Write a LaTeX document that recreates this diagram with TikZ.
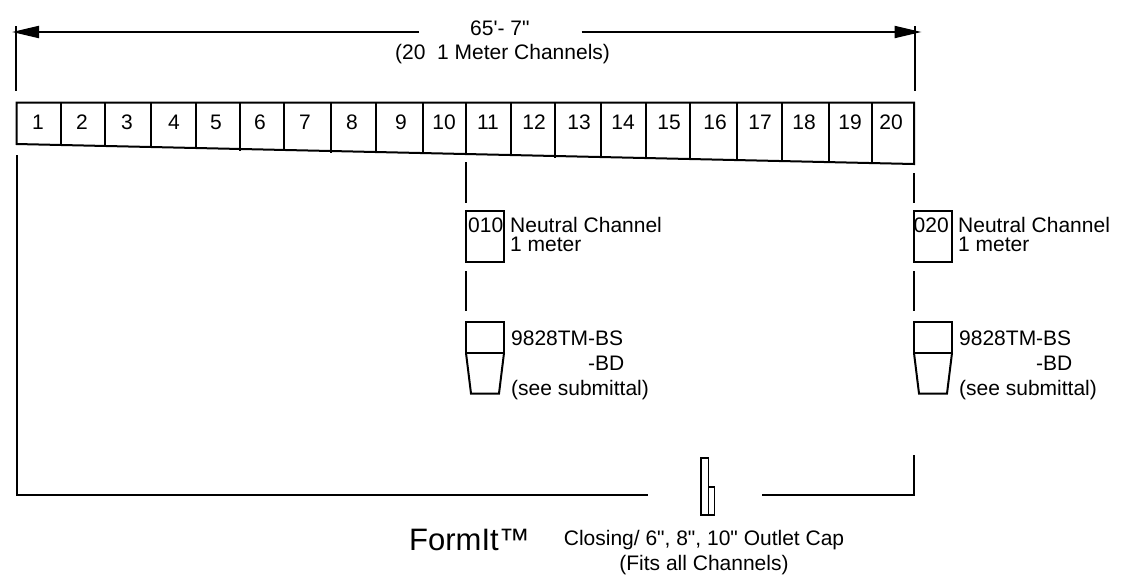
\documentclass[tikz,border=0pt]{standalone}
\usepackage{fontspec}
\newfontfamily\labelfont{Liberation Sans}
\usetikzlibrary{arrows.meta}
\newcommand{\thickness}{2pt}
\tikzset{
  part/.style={draw, line width=\thickness},
  capline/.style={draw, line width=1.7pt},
  cellnum/.style={inner sep=0pt, anchor=base, font=\labelfont\fontsize{21}{24}\selectfont},
  note/.style={inner sep=0pt, anchor=base west, font=\labelfont\fontsize{21}{24}\selectfont},
  dim/.style={line width=\thickness, -{Triangle[length=27pt,width=12pt]}}
}

\begin{document}
\begin{tikzpicture}[x=1pt, y=-1pt]
\useasboundingbox (0,0) rectangle (1126,582);
%dimension
\coordinate (dl) at (16,26);
\coordinate (dr) at (914.5,26);
\coordinate (al) at (12,32);
\coordinate (ar) at (921.5,32);
\node[note] (len) at (470,35) {65'- 7"};
\node[note] (lentxt) at (395,59) {(20\ \ 1 Meter Channels)};
\draw[part] (dl) -- (16,91);
\draw[part] (dr) -- (914.5,91);
\draw[dim] (419,32) -- (al);
\draw[dim] (581.5,32) -- (ar);
%bar
\coordinate (tl) at (16.5,102.5);
\coordinate (tr) at (914,102.5);
\coordinate (br) at (914,164);
\coordinate (bl) at (16.5,144);
\draw[part] (tl) -- (tr) -- (br) -- (bl) -- cycle;
\draw[part] (60.5,102.5) -- (60.5,146);
\draw[part] (105,102.5) -- (105,147);
\draw[part] (150.5,102.5) -- (150.5,146);
\draw[part] (195.5,102.5) -- (195.5,148);
\draw[part] (239.5,102.5) -- (239.5,150.5);
\draw[part] (284,102.5) -- (284,150);
\draw[part] (331,102.5) -- (331,152.5);
\draw[part] (376,102.5) -- (376,152);
\draw[part] (423,102.5) -- (423,154);
\draw[part] (465.5,102.5) -- (465.5,154);
\draw[part] (511,102.5) -- (511,155);
\draw[part] (555.3,102.5) -- (555.3,158);
\draw[part] (601,102.5) -- (601,157);
\draw[part] (645.7,102.5) -- (645.7,158);
\draw[part] (690,102.5) -- (690,159);
\draw[part] (736.7,102.5) -- (736.7,160);
\draw[part] (782,102.5) -- (782,161);
\draw[part] (828.7,102.5) -- (828.7,162);
\draw[part] (871.7,102.5) -- (871.7,163);
%numbers
\node[cellnum] (n1) at (38,129) {1};
\node[cellnum] (n2) at (82,129) {2};
\node[cellnum] (n3) at (127,129) {3};
\node[cellnum] (n4) at (174,129) {4};
\node[cellnum] (n5) at (216,129) {5};
\node[cellnum] (n6) at (260,129) {6};
\node[cellnum] (n7) at (305,129) {7};
\node[cellnum] (n8) at (352,129) {8};
\node[cellnum] (n9) at (401,129) {9};
\node[cellnum] (n10) at (444,129) {10};
\node[cellnum] (n11) at (488,129) {11};
\node[cellnum] (n12) at (534,129) {12};
\node[cellnum] (n13) at (579,129) {13};
\node[cellnum] (n14) at (623,129) {14};
\node[cellnum] (n15) at (669,129) {15};
\node[cellnum] (n16) at (715,129) {16};
\node[cellnum] (n17) at (760,129) {17};
\node[cellnum] (n18) at (804,129) {18};
\node[cellnum] (n19) at (850,129) {19};
\node[cellnum] (n20) at (891,129) {20};
%left and bottom frame
\coordinate (fl) at (17,155);
\coordinate (fb) at (17,495);
\coordinate (fe) at (648,495);
\draw[part] (fl) -- (fb) -- (fe);
\draw[part] (762,495) -- (914,495) -- (914,455);
%channel at 11
\draw[part] (465.7,162) -- (465.7,202.5);
\draw[part] (466,211) rectangle (504,262);
\draw[part] (466,271) -- (466,311);
\draw[part] (466,321.5) rectangle (504,353);
\draw[part] (466,353) -- (471,393.5) -- (499,393.5) -- (504,353);
\node[note] (c1) at (468,232) {010};
\node[note] (a1) at (510,232) {Neutral Channel};
\node[note] (b1) at (510,251) {1 meter};
\node[note] (d1) at (511,345) {9828TM-BS};
\node[note] (e1) at (588,370) {-BD};
\node[note] (f1) at (511,395) {(see submittal)};
%channel at 20
\draw[part] (914,173) -- (914,202.5);
\draw[part] (914,211) rectangle (952,262);
\draw[part] (914,271) -- (914,311);
\draw[part] (914,321.5) rectangle (952,353);
\draw[part] (914,353) -- (919,393.5) -- (947,393.5) -- (952,353);
\node[note] (c2) at (913.5,232) {020};
\node[note] (a2) at (958,232) {Neutral Channel};
\node[note] (b2) at (958,251) {1 meter};
\node[note] (d2) at (959,345) {9828TM-BS};
\node[note] (e2) at (1036,370) {-BD};
\node[note] (f2) at (959,395) {(see submittal)};
%cap
\draw[capline] (701,458) rectangle (708.5,515);
\draw[capline] (708.5,487) rectangle (714.5,515);
\node[note, font=\labelfont\fontsize{31}{36}\selectfont] (brand) at (409,550) {FormIt™};
\node[note, anchor=base] (cap) at (704,545) {Closing/ 6", 8", 10" Outlet Cap};
\node[note, anchor=base] (fits) at (704,570) {(Fits all Channels)};
\end{tikzpicture}
\end{document}
